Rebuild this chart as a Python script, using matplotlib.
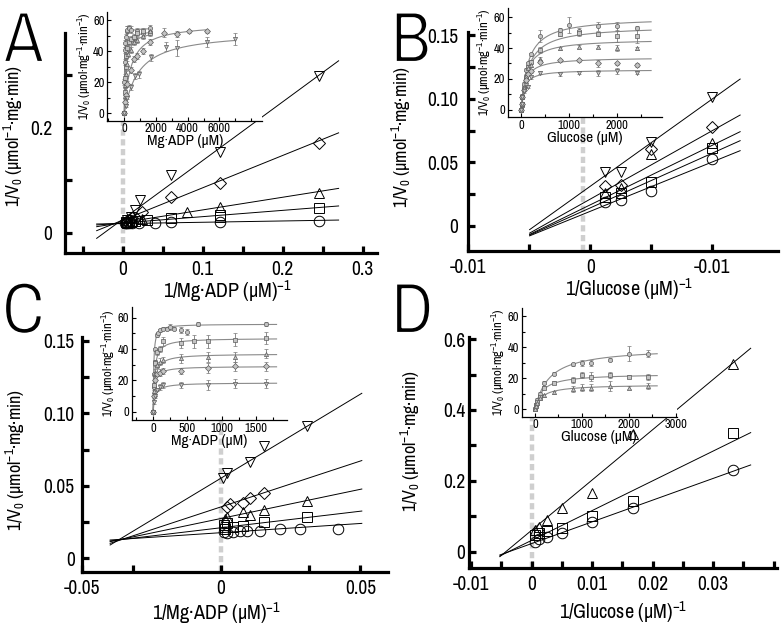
import numpy as np
import matplotlib
matplotlib.use('Agg')
import matplotlib.pyplot as plt
import matplotlib.patheffects as pe
from matplotlib.ticker import FixedLocator, MultipleLocator

FONT = 'Archivo Narrow'
plt.rcParams['font.family'] = [FONT, 'Liberation Sans', 'DejaVu Sans']
plt.rcParams['mathtext.fontset'] = 'custom'
plt.rcParams['mathtext.rm'] = FONT
plt.rcParams['mathtext.it'] = FONT + ':italic'
plt.rcParams['mathtext.bf'] = FONT + ':bold'

# ---------------- DATA ----------------
markers = ['o', 's', '^', 'D', 'v']   # circle, square, up-triangle, diamond, down-triangle

# Panel A : 1/[Mg.ADP] double reciprocal
A_x = [
    [0.245, 0.122, 0.061, 0.041, 0.020, 0.012, 0.008, 0.006, 0.004, 0.003],
    [0.245, 0.122, 0.122, 0.061, 0.030, 0.016, 0.010, 0.006, 0.004],
    [0.245, 0.122, 0.080, 0.024, 0.012, 0.008, 0.005],
    [0.245, 0.122, 0.061, 0.024, 0.012, 0.008, 0.005],
    [0.245, 0.122, 0.061, 0.022, 0.015, 0.010, 0.006],
]
A_y = [
    [0.0216, 0.0210, 0.0200, 0.0180, 0.0190, 0.0180, 0.0185, 0.0180, 0.0175, 0.0180],
    [0.0470, 0.0337, 0.0290, 0.0275, 0.0240, 0.0220, 0.0210, 0.0190, 0.0200],
    [0.0762, 0.0495, 0.0387, 0.0260, 0.0220, 0.0210, 0.0200],
    [0.1700, 0.0952, 0.0673, 0.0400, 0.0270, 0.0240, 0.0210],
    [0.2980, 0.1540, 0.1100, 0.0620, 0.0440, 0.0300, 0.0240],
]
A_slope = [0.0248, 0.1197, 0.241, 0.6155, 1.117]
A_icpt = [0.0173, 0.0185, 0.0192, 0.0238, 0.0255]
A_line_x = [-0.0325, 0.27]

# Panel B : 1/[Glucose]
B_x = [0.01, 0.005, 0.0025, 0.00125]
B_y = [
    [0.0524, 0.0278, 0.0205, 0.0191],
    [0.0610, 0.0349, 0.0262, 0.0231],
    [0.0650, 0.0570, 0.0302, 0.0262],
    [0.0776, 0.0603, 0.0322, 0.0315],
    [0.1017, 0.0663, 0.0427, 0.0422],
]
B_slope = [3.88, 4.30, 4.68, 5.38, 6.86]
B_icpt = [0.0115, 0.0142, 0.0166, 0.0211, 0.0312]
B_line_x = [-0.00497, 0.0123]

# Panel C : 1/[Mg.ADP]
C_x = [
    [0.0421, 0.0283, 0.0212, 0.0140, 0.0092, 0.0068, 0.0044, 0.0020, 0.0010],
    [0.0307, 0.01555, 0.0080, 0.0044, 0.0020, 0.0015, 0.0010],
    [0.0307, 0.01555, 0.0104, 0.0080, 0.0020, 0.0014],
    [0.01555, 0.0104, 0.0080, 0.0032, 0.0020],
    [0.0307, 0.01555, 0.0104, 0.0020, 0.0006],
]
C_y = [
    [0.0200, 0.0200, 0.0205, 0.0191, 0.0191, 0.0191, 0.0184, 0.0177, 0.0180],
    [0.0283, 0.0253, 0.0223, 0.0218, 0.0241, 0.0205, 0.0230],
    [0.0395, 0.0333, 0.0299, 0.0322, 0.0287, 0.0269],
    [0.0453, 0.0414, 0.0384, 0.0375, 0.0356],
    [0.0913, 0.0775, 0.0667, 0.0586, 0.0552],
]
C_slope = [0.127, 0.228, 0.402, 0.632, 1.158]
C_icpt = [0.0177, 0.0211, 0.0275, 0.0355, 0.0553]
C_line_x = [-0.0398, 0.0505]

# Panel D : 1/[Glucose]
D_x = [0.0333, 0.0167, 0.0100, 0.0050, 0.0025, 0.00125, 0.0006]
D_y = [
    [0.2306, 0.1224, 0.0847, 0.0536, 0.0424, 0.0348, 0.0280],
    [0.3340, 0.1430, 0.1007, 0.0659, 0.0593, 0.0536, 0.0470],
    [0.5290, 0.3320, 0.1666, 0.1240, 0.0894, 0.0706, 0.0610],
]
D_slope = [6.13, 8.40, 14.19]
D_icpt = [0.0228, 0.0319, 0.0604]
D_line_x = [-0.00525, 0.0362]

# Insets (velocity vs concentration, uM)
Ai_conc = [
    [0, 10, 20, 40, 60, 100, 150, 200, 300, 400, 800, 1200, 1600],
    [0, 20, 40, 80, 120, 200, 300, 400, 600, 800, 1200, 1600],
    [0, 25, 50, 100, 150, 250, 400, 600, 800, 1200, 1600],
    [0, 50, 100, 200, 400, 600, 800, 1200, 1600, 2500, 3300, 4100, 5200],
    [0, 100, 200, 400, 650, 900, 1700, 2600, 3300, 5200, 7000],
]
Ai_v = [
    [0, 20, 33, 41, 45, 49, 53, 54, 55, 54, 53, 52, 55],
    [0, 14, 23, 30, 37, 42, 46, 48, 49, 52, 53, 52],
    [0, 11, 18, 25, 32, 38, 41, 46, 47, 50, 53],
    [0, 7, 12, 19, 28, 35, 37, 40, 46, 52, 51, 53, 53],
    [0, 5, 10, 17, 24, 25, 36, 43, 42, 46, 48],
]
Ai_err = [
    [0.5, 2, 2, 2, 2, 2, 3, 2, 2, 2, 2, 2, 2],
    [0.5, 2, 2, 2, 2, 2, 2, 2, 2, 2, 2, 2],
    [0.5, 2, 2, 2, 2, 2, 2, 2, 2, 2, 2],
    [0.5, 1, 1, 2, 2, 2, 2, 2, 2, 3, 2, 1, 1],
    [0.5, 1, 1, 2, 2, 2, 2, 3, 5, 3, 4],
]
Ai_vmax = [55, 54, 54, 58, 53]
Ai_km = [15, 60, 110, 400, 900]
Ai_end = [1600, 1600, 1600, 5200, 7000]

Bi_conc = [
    [0, 10, 25, 50, 100, 150, 200, 400, 800, 1000, 1200, 1600, 2000, 2400],
    [0, 10, 25, 50, 100, 150, 200, 400, 800, 1200, 1600, 2000, 2400],
    [0, 10, 25, 50, 100, 150, 200, 400, 800, 1200, 1600, 2000, 2400],
    [0, 10, 25, 50, 100, 150, 200, 400, 800, 1200, 1600, 2000, 2400],
    [0, 10, 25, 50, 100, 150, 200, 400, 800, 1200, 1600, 2000, 2400],
]
Bi_v = [
    [0, 4, 9, 17, 26, 30, 36, 48, 52, 55, 51, 54, 54, 53],
    [0, 3, 8, 14, 21, 28, 31, 39, 49, 50, 49, 48, 48],
    [0, 4, 9, 15, 22, 27, 29, 33, 40, 41, 41, 40, 40],
    [0, 4, 8, 13, 19, 23, 25, 31, 32, 32, 30, 30, 29],
    [0, 4, 8, 12, 16, 15, 21, 24, 23, 24, 24, 25, 24],
]
Bi_err = [
    [0.5, 1, 1, 1, 1, 1, 1, 4, 1, 5, 2, 3, 3, 1],
    [0.5, 1, 1, 1, 1, 1, 1, 2, 1, 2, 1, 4, 5],
    [0.5, 1, 1, 1, 1, 1, 1, 1, 1, 1, 1, 2, 1],
    [0.5, 1, 1, 1, 1, 1, 1, 1, 1, 1, 2, 1, 1],
    [0.5, 1, 1, 1, 1, 1, 1, 1, 1, 1, 2, 2, 1],
]
Bi_vmax = [60, 54.5, 46, 34, 26]
Bi_km = [140, 150, 105, 80, 60]
Bi_end = [2700, 2700, 2700, 2700, 2700]

Ci_conc = [
    [0, 5, 10, 20, 30, 50, 75, 100, 150, 200, 250, 300, 400, 500, 650, 1640],
    [0, 10, 25, 50, 100, 150, 400, 600, 800, 1200, 1640],
    [0, 10, 25, 50, 100, 150, 400, 800, 1200, 1640],
    [0, 10, 25, 50, 100, 150, 400, 800, 1200, 1640],
    [0, 10, 25, 50, 100, 150, 400, 800, 1200, 1640],
]
Ci_v = [
    [0, 16, 24, 32, 40, 49, 50, 52, 53, 53, 54, 53, 52, 51, 56, 56],
    [0, 17, 31, 38, 40, 45, 44, 45, 45, 46, 47],
    [0, 13, 25, 30, 32, 33, 34, 35, 35, 37],
    [0, 10, 20, 24, 25, 26, 26, 28, 29, 29],
    [0, 6, 10, 14, 16, 17, 17, 17, 18, 18],
]
Ci_err = [
    [0.5, 1, 1, 1, 1, 1, 1, 1, 1, 1, 2, 1, 2, 2, 1, 1],
    [0.5, 1, 2, 2, 2, 3, 3, 4, 4, 4, 4],
    [0.5, 1, 2, 2, 2, 2, 3, 3, 3, 3],
    [0.5, 1, 1, 1, 2, 2, 2, 3, 3, 3],
    [0.5, 1, 1, 1, 2, 2, 2, 3, 3, 3],
]
Ci_vmax = [56, 47, 37, 29, 18.5]
Ci_km = [8, 20, 25, 20, 30]
Ci_end = [1800, 1800, 1800, 1800, 1800]

Di_conc = [0, 25, 50, 100, 200, 400, 800, 1000, 1200, 1600, 2000, 2400]
Di_v = [
    [0, 3, 6, 10, 17, 23, 29, 30, 30, 32, 36, 36],
    [0, 3, 5, 8, 14, 17, 19, 22, 21, 22, 21, 21],
    [0, 2, 4, 7, 9, 11, 13, 14, 14, 15, 14, 15],
]
Di_err = [
    [0.5, 1, 1, 1, 1, 1, 1, 2, 2, 1, 5, 2],
    [0.5, 1, 1, 1, 1, 1, 2, 2, 3, 2, 1, 2],
    [0.5, 1, 1, 1, 1, 1, 2, 2, 2, 3, 1, 2],
]
Di_vmax = [40, 23, 16]
Di_km = [300, 150, 150]
Di_end = [2600, 2600, 2600]

YLAB = r'1/V$_\mathregular{0}$ (µmol$^\mathregular{-1}$·mg·min)'
YLAB_IN = r'1/V$_\mathregular{0}$ (µmol·mg$^\mathregular{-1}$·min$^\mathregular{-1}$)'
XLAB_ADP = r'1/Mg·ADP (µM)$^\mathregular{-1}$'
XLAB_GLC = r'1/Glucose (µM)$^\mathregular{-1}$'
XIN_ADP = 'Mg·ADP (µM)'
XIN_GLC = 'Glucose (µM)'

# ---------------- FIGURE ----------------
W, H = 782, 627
fig = plt.figure(figsize=(7.82, 6.27), dpi=100)


def rect(l, t, r, b):
    return [l / W, 1 - b / H, (r - l) / W, (b - t) / H]


def main_axes(box, xlim, ylim, xt, xtl, yt, ytl, xlabel, ypad,
              ylab_xy, xlab_xy):
    ax = fig.add_axes(rect(*box))
    ax.set_xlim(xlim)
    ax.set_ylim(ylim)
    for s in ['top', 'right']:
        ax.spines[s].set_visible(False)
    for s in ['left', 'bottom']:
        ax.spines[s].set_linewidth(2.3)
    ax.set_xticks(xt)
    ax.set_xticklabels(xtl)
    ax.set_yticks(yt)
    ax.set_yticklabels(ytl)
    ax.tick_params(direction='in', width=2.3, length=5, labelsize=14)
    ax.tick_params(axis='x', pad=5)
    ax.tick_params(axis='y', pad=ypad)
    ax.set_ylabel(YLAB, fontsize=13)
    ax.set_xlabel(xlabel, fontsize=14.5)
    ax.yaxis.set_label_coords(*ylab_xy)
    ax.xaxis.set_label_coords(*xlab_xy)
    return ax


def draw_main(ax, xs, ys, slopes, icpts, lx, mk, dash_x, dash_y):
    ax.plot([dash_x, dash_x], dash_y, color='#cfcfcf', lw=3.2,
            linestyle=(0, (1.4, 0.8)), zorder=1, solid_capstyle='butt')
    xx = np.array(lx)
    for s, b in zip(slopes, icpts):
        ax.plot(xx, s * xx + b, color='black', lw=0.7, zorder=2)
    for i in range(len(ys)):
        xv = xs[i] if isinstance(xs[0], list) else xs
        ms = 6.2 if mk[i] == 'D' else 7.6
        ax.plot(xv, ys[i], linestyle='none', marker=mk[i], ms=ms,
                mfc='none', mec='black', mew=0.7, zorder=3)


def inset(box, xlim, ylim, xmaj, xmin, xlabel, conc, vals, errs, vmax, km,
          cend, mk):
    ax = fig.add_axes(rect(*box))
    ax.set_zorder(5)
    ax.set_facecolor('white')
    ax.set_xlim(xlim)
    ax.set_ylim(ylim)
    for s in ['top', 'right']:
        ax.spines[s].set_visible(False)
    for s in ['left', 'bottom']:
        ax.spines[s].set_linewidth(0.9)
    ax.xaxis.set_major_locator(FixedLocator(xmaj))
    ax.xaxis.set_minor_locator(MultipleLocator(xmin))
    ax.yaxis.set_major_locator(FixedLocator([0, 20, 40, 60]))
    ax.yaxis.set_minor_locator(MultipleLocator(10))
    ax.tick_params(which='both', direction='in', width=0.8, labelsize=9, pad=2)
    ax.tick_params(which='major', length=3)
    ax.tick_params(which='minor', length=2)
    ax.set_xlabel(xlabel, fontsize=11, labelpad=0)
    ax.set_ylabel(YLAB_IN, fontsize=9, labelpad=0)
    for i in range(len(vals)):
        c = conc[i] if isinstance(conc[0], list) else conc
        xs = np.linspace(0, cend[i], 400)
        ax.plot(xs, vmax[i] * xs / (km[i] + xs), color='#8a8a8a', lw=0.8,
                zorder=2)
        ax.errorbar(c, vals[i], yerr=errs[i], fmt=mk[i], ms=3.0,
                    mfc='#c4c4c4', mec='#5a5a5a', mew=0.5, ecolor='#7a7a7a',
                    elinewidth=0.6, capsize=1.3, capthick=0.6, zorder=3)
    return ax


# Panel A
axA = main_axes((65, 33, 377, 253), (-0.0721, 0.318), (-0.0387, 0.38),
                [-0.05, 0, 0.05, 0.1, 0.15, 0.2, 0.25, 0.3],
                ['', '0', '', '0.1', '', '0.2', '', '0.3'],
                [0, 0.1, 0.2, 0.3], ['0', '', '0.2', ''],
                XLAB_ADP, 9, (-0.128, 0.53), (0.52, -0.112))
draw_main(axA, A_x, A_y, A_slope, A_icpt, A_line_x, markers, 0.0, [-0.0387, 0.213])

# Panel B
axB = main_axes((468.3, 32, 778.3, 251), (-0.00997, 0.01543), (-0.0197, 0.1526),
                [-0.01, -0.005, 0, 0.005, 0.01],
                ['-0.01', '', '0', '', '-0.01'],
                [0, 0.025, 0.05, 0.075, 0.1, 0.125, 0.15],
                ['0', '', '0.05', '', '0.10', '', '0.15'],
                XLAB_GLC, 7, (-0.178, 0.52), (0.52, -0.115))
draw_main(axB, B_x, B_y, B_slope, B_icpt, B_line_x, markers, -0.00055, [-0.0197, 0.085])

# Panel C
axC = main_axes((81.7, 336.7, 388, 571.7), (-0.05, 0.0599), (-0.0092, 0.1528),
                [-0.05, -0.0315, 0, 0.0315, 0.05],
                ['-0.05', '', '0', '', '0.05'],
                [0, 0.025, 0.05, 0.075, 0.1, 0.125, 0.15],
                ['0', '', '0.05', '', '0.10', '', '0.15'],
                XLAB_ADP, 5, (-0.18, 0.475), (0.439, -0.12))
draw_main(axC, C_x, C_y, C_slope, C_icpt, C_line_x, markers, 0.0, [-0.0092, 0.095])

# Panel D
axD = main_axes((469.3, 337.3, 776.7, 568.3), (-0.0103, 0.0405), (-0.047, 0.605),
                [-0.01, -0.005, 0, 0.005, 0.01, 0.015, 0.02, 0.025, 0.03, 0.035, 0.04],
                ['-0.01', '', '0', '', '0.01', '', '0.02', '', '0.03', '', ''],
                [0, 0.1, 0.2, 0.3, 0.4, 0.5, 0.6],
                ['0', '', '0.2', '', '0.4', '', '0.6'],
                XLAB_GLC, 3, (-0.154, 0.55), (0.5, -0.135))
draw_main(axD, D_x, D_y, D_slope, D_icpt, D_line_x, ['o', 's', '^'], 0.0, [-0.047, 0.381])

# Insets
inset((107.3, 11.7, 262.3, 120.7), (-1073, 8707), (-4.8, 65.5),
      [0, 2000, 4000, 6000], 1000, XIN_ADP, Ai_conc, Ai_v, Ai_err,
      Ai_vmax, Ai_km, Ai_end, markers)
inset((507.7, 8, 661.7, 117.3), (-280, 2920), (-4.9, 66.0),
      [0, 1000, 2000, 3000], 500, XIN_GLC, Bi_conc, Bi_v, Bi_err,
      Bi_vmax, Bi_km, Bi_end, markers)
inset((131.7, 307, 286.7, 420), (-313, 1948), (-5.3, 66.9),
      [0, 500, 1000, 1500], 250, XIN_ADP, Ci_conc, Ci_v, Ci_err,
      Ci_vmax, Ci_km, Ci_end, markers)
inset((521.7, 308, 676.7, 416.7), (-283, 3015), (-4.8, 65.4),
      [0, 1000, 2000, 3000], 500, XIN_GLC, Di_conc, Di_v, Di_err,
      Di_vmax, Di_km, Di_end, ['o', 's', '^'])

# Panel letters
for lab, (px, py) in zip(['A', 'B', 'C', 'D'],
                         [(4, 62), (391, 62), (2, 333), (391, 333)]):
    fig.text(px / W, 1 - py / H, lab, fontsize=52, va='baseline', ha='left',
             path_effects=[pe.Normal(), pe.Stroke(linewidth=1.6, foreground='white')])

fig.savefig('out.png', dpi=100)
